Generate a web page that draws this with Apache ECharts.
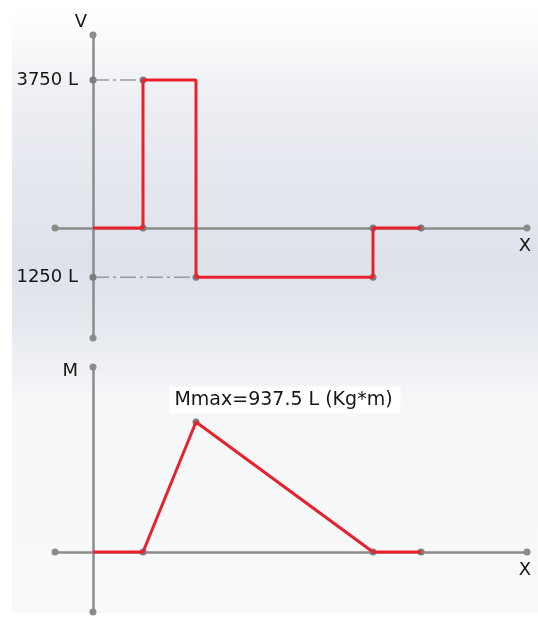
<!DOCTYPE html>
<html>
<head>
<meta charset="utf-8">
<style>
  html, body { margin: 0; padding: 0; background: #ffffff; }
  #chart { width: 538px; height: 619px; }
</style>
<script src="https://cdn.jsdelivr.net/npm/echarts@6/dist/echarts.min.js"></script>
</head>
<body>
<div id="chart"></div>
<script>
// Beam stations along X (sketch units) and the values at them
const stations = [0, 0.5, 1.03, 2.8, 3.28];
// Shear force on each segment between consecutive stations (L)
const shearSegments = [0, 3750, -1250, 0];
// Bending moment at each station (L·Kg·m)
const momentValues = [0, 0, 937.5, 0, 0];
// Values marked on the V axis
const shearTicks = [3750, -1250];

const FONT = 'DejaVu Sans';
const TEXT = '#161616';
const RED = '#e8212b';
const GRAY = '#8b8b8b';
const DOT = '#7d7d7d';

// Step outline of the shear diagram
const shearLine = [];
shearSegments.forEach((v, i) => {
  shearLine.push([stations[i], v], [stations[i + 1], v]);
});

// Gray vertex markers of the shear diagram
const shearDots = [
  [stations[0], shearTicks[0]],
  [stations[0], shearTicks[1]],
  [stations[1], 0],
  [stations[1], shearSegments[1]],
  [stations[2], shearSegments[2]],
  [stations[3], shearSegments[2]],
  [stations[3], 0],
  [stations[4], 0]
];

const momentLine = stations.map((s, i) => [s, momentValues[i]]);
const momentDots = [1, 2, 3, 4].map(i => [stations[i], momentValues[i]]);
const peakIndex = momentValues.indexOf(Math.max(...momentValues));

const axisLineStyle = {
  show: true,
  onZero: true,
  symbol: ['circle', 'circle'],
  symbolSize: [7, 7],
  lineStyle: { color: GRAY, width: 2.5 }
};

function xAxisFor(gridIndex) {
  return {
    type: 'value', gridIndex,
    min: -0.38, max: 4.34,
    name: 'X', nameLocation: 'end', nameGap: -2,
    nameTextStyle: {
      color: TEXT, fontFamily: FONT, fontSize: 18,
      align: 'center', verticalAlign: 'top', padding: [9, 0, 0, 0]
    },
    axisLine: axisLineStyle,
    axisTick: { show: false },
    axisLabel: { show: false },
    splitLine: { show: false }
  };
}

const chart = echarts.init(document.getElementById('chart'), null, { renderer: 'canvas' });

chart.setOption({
  animation: false,
  backgroundColor: '#ffffff',
  graphic: [{
    type: 'rect', z: -10, silent: true,
    shape: { x: 12, y: 8, width: 526, height: 605 },
    style: {
      fill: new echarts.graphic.LinearGradient(0, 0, 0, 1, [
        { offset: 0.0, color: '#ffffff' },
        { offset: 0.04, color: '#fbfbfc' },
        { offset: 0.16, color: '#eceef3' },
        { offset: 0.42, color: '#dde1ea' },
        { offset: 0.53, color: '#e6e9ef' },
        { offset: 0.65, color: '#f6f7f9' },
        { offset: 1.0, color: '#f8f9fa' }
      ])
    }
  }],
  grid: [
    { left: 55, right: 11, top: 35, bottom: 281, outerBoundsMode: 'none', containLabel: false },
    { left: 55, right: 11, top: 367, bottom: 7, outerBoundsMode: 'none', containLabel: false }
  ],
  xAxis: [xAxisFor(0), xAxisFor(1)],
  yAxis: [
    {
      type: 'value', gridIndex: 0,
      min: -2790, max: 4890,
      name: 'V', nameLocation: 'end', nameGap: 4,
      nameTextStyle: {
        color: TEXT, fontFamily: FONT, fontSize: 18,
        align: 'right', verticalAlign: 'bottom', padding: [0, 6, 0, 0]
      },
      axisLine: axisLineStyle,
      axisTick: { show: false },
      splitLine: { show: false },
      axisLabel: {
        customValues: shearTicks,
        formatter: v => Math.abs(v) + ' L',
        margin: -23,
        align: 'right',
        color: TEXT, fontFamily: FONT, fontSize: 18
      }
    },
    {
      type: 'value', gridIndex: 1,
      min: -433, max: 1334,
      name: 'M', nameLocation: 'end', nameGap: -4,
      nameTextStyle: {
        color: TEXT, fontFamily: FONT, fontSize: 18,
        align: 'right', verticalAlign: 'middle', padding: [0, 15, 0, 0]
      },
      axisLine: axisLineStyle,
      axisTick: { show: false },
      splitLine: { show: false },
      axisLabel: { show: false }
    }
  ],
  series: [
    // dash-dot guides from the V axis to the diagram levels
    {
      type: 'line', xAxisIndex: 0, yAxisIndex: 0, z: 2,
      data: [[stations[0], shearTicks[0]], [stations[1], shearTicks[0]]],
      showSymbol: false,
      lineStyle: { color: '#9a9a9a', width: 1.6, type: [16, 4, 3, 4] }
    },
    {
      type: 'line', xAxisIndex: 0, yAxisIndex: 0, z: 2,
      data: [[stations[0], shearTicks[1]], [stations[2], shearTicks[1]]],
      showSymbol: false,
      lineStyle: { color: '#9a9a9a', width: 1.6, type: [16, 4, 3, 4] }
    },
    {
      type: 'scatter', xAxisIndex: 0, yAxisIndex: 0, z: 3,
      data: shearDots, symbolSize: 7,
      itemStyle: { color: DOT, opacity: 1 }
    },
    {
      type: 'line', xAxisIndex: 0, yAxisIndex: 0, z: 4,
      data: shearLine, showSymbol: false,
      lineStyle: { color: RED, width: 3 }
    },
    {
      type: 'scatter', xAxisIndex: 1, yAxisIndex: 1, z: 3,
      data: momentDots, symbolSize: 7,
      itemStyle: { color: DOT, opacity: 1 }
    },
    {
      type: 'line', xAxisIndex: 1, yAxisIndex: 1, z: 4,
      data: momentLine, showSymbol: false,
      lineStyle: { color: RED, width: 3 }
    },
    // maximum moment annotation
    {
      type: 'scatter', xAxisIndex: 1, yAxisIndex: 1, z: 5,
      data: [momentLine[peakIndex]],
      symbolSize: 1,
      itemStyle: { color: 'rgba(0,0,0,0)', opacity: 1 },
      label: {
        show: true,
        position: 'top',
        distance: 6,
        offset: [89, -2],
        formatter: p => 'Mmax=' + p.value[1] + ' L (Kg*m)',
        color: TEXT, fontFamily: FONT, fontSize: 19,
        backgroundColor: '#ffffff',
        padding: [4, 8, 4, 5]
      }
    }
  ]
});
</script>
</body>
</html>
